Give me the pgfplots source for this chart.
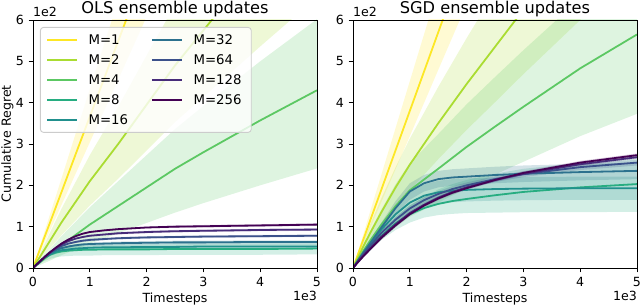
\documentclass[border=0pt]{standalone}
\usepackage{fontspec}
\setmainfont{DejaVu Sans}
\usepackage{pgfplots}
\usepackage{pgfplotstable}
\pgfplotsset{compat=1.18}
\usepgfplotslibrary{fillbetween}
\newcommand{\fs}{\fontsize{12.6pt}{15pt}\selectfont}
\newcommand{\fl}{\fontsize{13.3pt}{16pt}\selectfont}
\newcommand{\ft}{\fontsize{16.2pt}{19pt}\selectfont}
\definecolor{c1}{HTML}{FDE725}
\definecolor{c2}{HTML}{AADC32}
\definecolor{c4}{HTML}{5CC863}
\definecolor{c8}{HTML}{27AD81}
\definecolor{c16}{HTML}{21908D}
\definecolor{c32}{HTML}{2C718E}
\definecolor{c64}{HTML}{3B518B}
\definecolor{c128}{HTML}{472C7A}
\definecolor{c256}{HTML}{440154}
\definecolor{legframe}{HTML}{CCCCCC}

% ---------------- OLS ----------------
\pgfplotstableread{
t m u l
0 0 0 0
100 37 44 31
200 74 87 61
300 110 130 91
500 183 216 152
750 275 325 228
1000 366 432 304
1500 549 648 456
2000 732 864 608
2500 915 1080 760
3000 1098 1296 911
4000 1464 1728 1215
5000 1830 2160 1519
}\olsMa
\pgfplotstableread{
t m u l
0 0 0 0
100 22 29 16
200 44 57 32
300 66 86 48
500 110 143 79
750 160 208 115
1000 210 273 151
1500 300 390 216
2000 395 514 284
2500 490 637 353
3000 575 748 414
4000 745 969 536
5000 910 1183 655
}\olsMb
\pgfplotstableread{
t m u l
0 0 0 0
100 11 15 6
200 22 31 12
300 33 46 18
500 55 77 31
750 80 112 45
1000 105 147 59
1500 150 210 84
2000 195 273 109
2500 240 336 134
3000 280 392 157
4000 357 500 200
5000 430 602 241
}\olsMc
\pgfplotstableread{
t m u l
0 0 0 0
100 13 17 9
200 24 31 17
300 32 42 22
400 37 48 26
500 40 52 28
625 42 55 29
750 43 56 30
875 44 57 30
1000 44 57 30
1250 45 58 31
1500 45 58 31
2000 45 58 31
2500 46 60 32
3000 46 60 32
4000 46 60 32
5000 47 61 33
}\olsMd
\pgfplotstableread{
t m u l
0 0 0 0
100 13 15 11
200 25 28 22
300 33 37 29
400 39 44 34
500 43 48 38
625 45 50 40
750 47 53 41
875 48 54 42
1000 49 55 43
1250 50 56 44
1500 50 56 44
2000 51 57 45
2500 51 57 45
3000 52 58 46
4000 52 58 46
5000 52 58 46
}\olsMe
\pgfplotstableread{
t m u l
0 0 0 0
100 13 14 12
200 25 27 23
300 35 37 33
400 43 46 40
500 48 51 45
625 52 55 49
750 55 58 52
875 57 60 54
1000 58 61 55
1250 59 63 55
1500 60 64 56
2000 61 65 57
2500 62 66 58
3000 62 66 58
4000 63 67 59
5000 63 67 59
}\olsMf
\pgfplotstableread{
t m u l
0 0 0 0
100 13 14 12
200 26 27 25
300 37 38 36
400 46 48 44
500 53 55 51
625 59 61 57
750 63 66 60
875 66 69 63
1000 68 71 65
1250 70 73 67
1500 72 75 69
2000 74 77 71
2500 75 78 72
3000 76 79 73
4000 77 80 74
5000 78 81 75
}\olsMg
\pgfplotstableread{
t m u l
0 0 0 0
100 13 13 13
200 26 27 25
300 38 39 37
400 48 50 46
500 57 59 55
625 65 67 63
750 71 73 69
875 75 77 73
1000 78 80 76
1250 81 83 79
1500 84 87 81
2000 87 90 84
2500 89 92 86
3000 90 93 87
4000 92 95 89
5000 93 96 90
}\olsMh
\pgfplotstableread{
t m u l
0 0 0 0
100 13 13 13
200 26 27 25
300 38 39 37
400 49 50 48
500 59 61 57
625 69 71 67
750 77 79 75
875 83 85 81
1000 87 89 85
1250 91 93 89
1500 94 96 92
2000 98 100 96
2500 100 103 97
3000 101 104 98
4000 103 106 100
5000 105 108 102
}\olsMi

% ---------------- SGD ----------------
\pgfplotstableread{
t m u l
0 0 0 0
100 38 45 32
200 76 90 64
300 114 136 96
500 190 226 160
750 285 339 239
1000 380 452 319
1500 570 678 479
2000 760 904 638
2500 950 1131 798
3000 1140 1357 958
4000 1520 1809 1277
5000 1900 2261 1596
}\sgdMa
\pgfplotstableread{
t m u l
0 0 0 0
100 29 36 22
200 57 71 43
300 84 105 63
500 135 169 101
750 195 244 146
1000 250 313 188
1500 350 438 263
2000 445 556 334
2500 535 669 401
3000 625 781 469
4000 800 1000 600
5000 975 1219 731
}\sgdMb
\pgfplotstableread{
t m u l
0 0 0 0
100 23 31 15
200 45 61 30
300 66 89 44
500 105 142 69
750 150 203 99
1000 188 254 124
1500 240 324 158
2000 293 396 193
2500 342 462 226
3000 390 527 257
4000 483 652 319
5000 565 763 373
}\sgdMc
\pgfplotstableread{
t m u l
0 0 0 0
100 17 19 15
200 33 38 28
300 49 57 41
500 78 88 68
750 108 125 92
1000 130 152 110
1250 145 172 122
1500 155 190 128
1750 162 203 131
2000 167 213 133
2500 176 228 134
3000 184 240 135
4000 195 254 135
5000 203 265 136
}\sgdMd
\pgfplotstableread{
t m u l
0 0 0 0
100 20 22 18
200 39 44 34
300 57 65 49
500 93 106 80
750 130 150 110
1000 158 183 133
1250 175 202 148
1500 183 211 155
1750 187 215 159
2000 189 217 161
2500 191 219 163
3000 192 220 164
4000 193 221 165
5000 193 221 165
}\sgdMe
\pgfplotstableread{
t m u l
0 0 0 0
100 21 23 19
200 41 46 36
300 60 68 52
500 98 110 86
750 145 162 128
1000 185 205 165
1250 205 225 185
1500 215 235 195
1750 219 239 199
2000 221 241 201
2500 225 245 205
3000 228 248 208
4000 232 252 212
5000 235 255 215
}\sgdMf
\pgfplotstableread{
t m u l
0 0 0 0
100 19 20 18
200 37 39 35
300 53 56 50
500 85 90 80
750 117 123 111
1000 144 151 137
1250 164 171 157
1500 179 186 172
1750 191 198 184
2000 200 207 193
2500 215 222 208
3000 227 234 220
4000 244 251 237
5000 255 262 248
}\sgdMg
\pgfplotstableread{
t m u l
0 0 0 0
100 17 18 16
200 33 35 31
300 47 50 44
500 76 80 72
750 106 110 102
1000 133 137 129
1250 153 157 149
1500 170 174 166
1750 184 188 180
2000 195 199 191
2500 213 217 209
3000 228 232 224
4000 251 255 247
5000 268 272 264
}\sgdMh
\pgfplotstableread{
t m u l
0 0 0 0
100 16 17 15
200 31 33 29
300 45 48 42
500 73 77 69
750 103 107 99
1000 130 134 126
1250 151 155 147
1500 168 172 164
1750 182 186 178
2000 193 197 189
2500 213 217 209
3000 230 234 226
4000 255 259 251
5000 273 277 269
}\sgdMi

\newcommand{\band}[3]{%
  \addplot[draw=none, forget plot, name path=#3u] table[x=t,y=u]{#1};
  \addplot[draw=none, forget plot, name path=#3l] table[x=t,y=l]{#1};
  \addplot[fill=#2, fill opacity=0.2, draw=none, forget plot] fill between[of=#3u and #3l];
  \addplot[#2, line width=1.8pt, forget plot, line join=round] table[x=t,y=m]{#1};
}

\pgfplotsset{
  myax/.style={
    scale only axis, width=284pt, height=248pt,
    xmin=0, xmax=5000, ymin=0, ymax=600,
    clip mode=individual,
    xtick={0,1000,2000,3000,4000,5000}, xticklabels={0,1,2,3,4,5},
    ytick={0,100,200,300,400,500,600}, yticklabels={0,1,2,3,4,5,6},
    tick align=outside, xtick pos=left, ytick pos=left,
    major tick length=4.4pt,
    tick style={black, line width=0.9pt},
    axis line style={black, line width=0.9pt},
    ticklabel style={font=\fs},
    xticklabel style={inner sep=0pt, text height=9.2pt, text depth=0pt, anchor=north, yshift=-4.6pt},
    yticklabel style={inner sep=0pt, text height=9.2pt, text depth=0pt, anchor=east, xshift=-4.6pt},
    every axis title shift=0pt,
    title style={at={(axis description cs:0.5,1.0242)}, anchor=base, font=\ft, inner sep=0pt},
    xlabel style={at={(axis description cs:0.5,-0.1391)}, anchor=base, font=\fs, inner sep=0pt},
    xlabel={Timesteps},
    axis on top,
  }
}

\begin{document}
\begin{tikzpicture}
\begin{axis}[myax, at={(33pt,39pt)}, anchor=south west,
  title={OLS ensemble updates},
  ylabel={Cumulative Regret},
  ylabel style={at={(axis description cs:-0.0775,0.5)}, anchor=base, font=\fs, inner sep=0pt},
  legend columns=2,
  legend cell align=left,
  legend image code/.code={\draw[#1] (0pt,0pt) -- (30pt,0pt);},
  legend style={at={(axis description cs:0.0246,0.9718)}, anchor=north west,
    font=\fl, draw=legframe, line width=0.9pt, rounded corners=3pt,
    fill=white, fill opacity=0.8, draw opacity=1, text opacity=1,
    inner xsep=5.7pt, inner ysep=7.6pt, column sep=10.6pt, row sep=10.3pt,
    cells={anchor=west},
    nodes={inner sep=0pt, text height=9.7pt, text depth=0pt, text width=52pt}},
]
\band{\olsMa}{c1}{oa}
\band{\olsMb}{c2}{ob}
\band{\olsMc}{c4}{oc}
\band{\olsMd}{c8}{od}
\band{\olsMe}{c16}{oe}
\band{\olsMf}{c32}{of}
\band{\olsMg}{c64}{og}
\band{\olsMh}{c128}{oh}
\band{\olsMi}{c256}{oi}
\addlegendimage{c1, line width=1.8pt}\addlegendentry{M=1}
\addlegendimage{c32, line width=1.8pt}\addlegendentry{M=32}
\addlegendimage{c2, line width=1.8pt}\addlegendentry{M=2}
\addlegendimage{c64, line width=1.8pt}\addlegendentry{M=64}
\addlegendimage{c4, line width=1.8pt}\addlegendentry{M=4}
\addlegendimage{c128, line width=1.8pt}\addlegendentry{M=128}
\addlegendimage{c8, line width=1.8pt}\addlegendentry{M=8}
\addlegendimage{c256, line width=1.8pt}\addlegendentry{M=256}
\addlegendimage{c16, line width=1.8pt}\addlegendentry{M=16}
\node[anchor=base west, inner sep=0pt, font=\fs] at (axis description cs:0,1.0121) {1e2};
\node[anchor=base east, inner sep=0pt, font=\fs] at (axis description cs:1,-0.131) {1e3};
\end{axis}
\begin{axis}[myax, at={(353pt,39pt)}, anchor=south west,
  title={SGD ensemble updates},
]
\band{\sgdMa}{c1}{sa}
\band{\sgdMb}{c2}{sb}
\band{\sgdMc}{c4}{sc}
\band{\sgdMd}{c8}{sd}
\band{\sgdMe}{c16}{se}
\band{\sgdMf}{c32}{sf}
\band{\sgdMg}{c64}{sg}
\band{\sgdMh}{c128}{sh}
\band{\sgdMi}{c256}{si}
\node[anchor=base west, inner sep=0pt, font=\fs] at (axis description cs:0,1.0121) {1e2};
\node[anchor=base east, inner sep=0pt, font=\fs] at (axis description cs:1,-0.131) {1e3};
\end{axis}
\pgfresetboundingbox
\useasboundingbox (0,0) rectangle (640pt,307pt);
\end{tikzpicture}
\end{document}
